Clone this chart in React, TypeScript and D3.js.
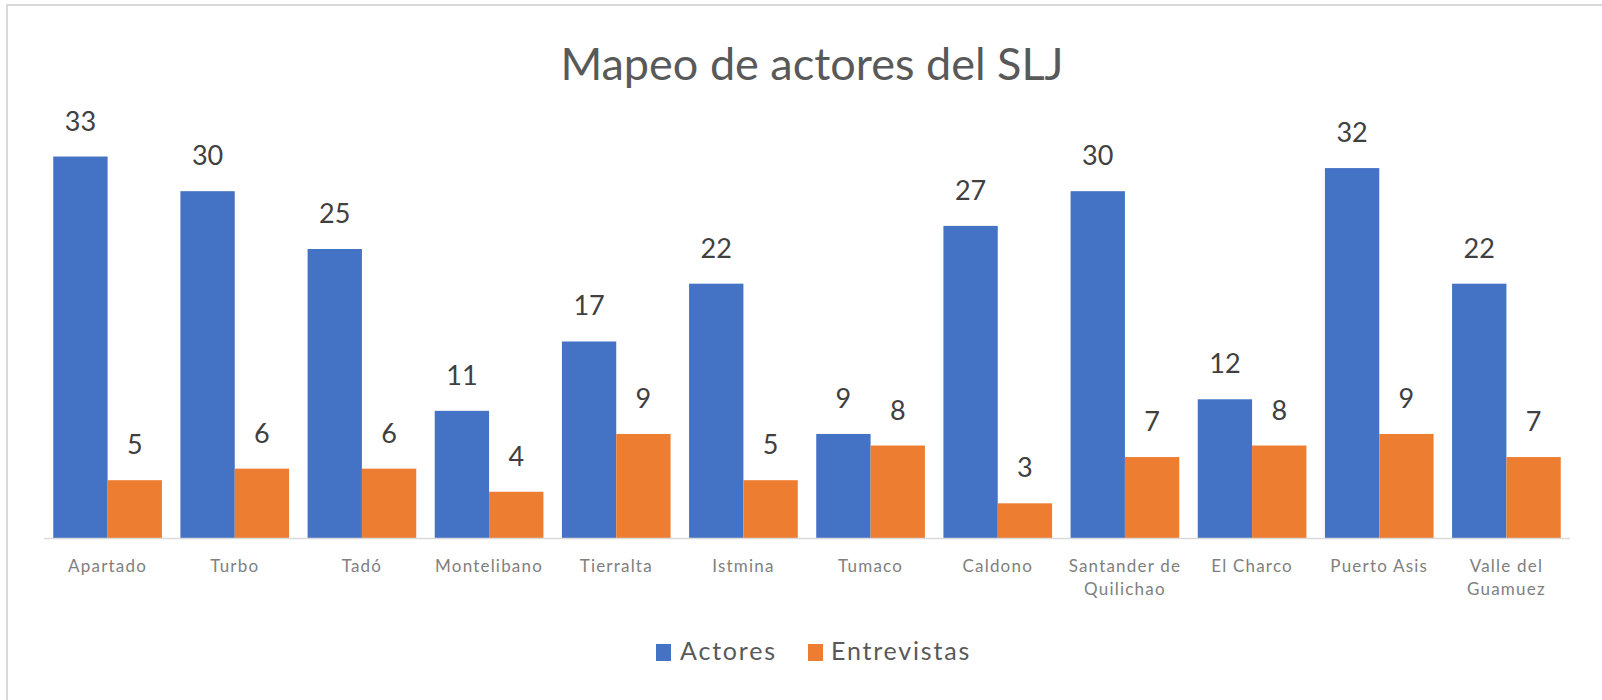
import * as d3 from 'd3';

const categories = [
  'Apartadó', 'Turbo', 'Tadó', 'Montelíbano', 'Tierralta', 'Istmina',
  'Tumaco', 'Caldono', 'Santander de Quilichao', 'El Charco', 'Puerto Asís', 'Valle del Guamuez',
];
// line breaks used by the category axis
const categoryLines: string[][] = [
  ['Apartado'], ['Turbo'], ['Tadó'], ['Montelibano'], ['Tierralta'], ['Istmina'],
  ['Tumaco'], ['Caldono'], ['Santander de', 'Quilichao'], ['El Charco'], ['Puerto Asis'], ['Valle del', 'Guamuez'],
];
const actores = [33, 30, 25, 11, 17, 22, 9, 27, 30, 12, 32, 22];
const entrevistas = [5, 6, 6, 4, 9, 5, 8, 3, 7, 8, 9, 7];
const seriesNames = ['Actores', 'Entrevistas'];
const seriesColors = ['#4472C4', '#ED7D31'];

const W = 1602;
const H = 700;
const FONT = 'Lato, "Open Sans", sans-serif';

const App = () => {
  const baseline = 538;
  const x0 = d3.scaleBand<string>()
    .domain(categories)
    .range([44, 1570])
    .paddingInner(0.1455)
    .paddingOuter(0.1455 / 2);
  const x1 = d3.scaleBand<string>()
    .domain(seriesNames)
    .range([0, x0.bandwidth()]);
  const y = d3.scaleLinear().domain([0, 35]).range([baseline, baseline - 35 * 11.56]);

  const series = [actores, entrevistas];

  return (
    <svg width={W} height={H} style={{ position: 'fixed', left: 0, top: 0, background: '#fff' }}>
      <rect x={0} y={0} width={W} height={H} fill="#fff" />
      {/* frame edges */}
      <line x1={7} x2={7} y1={4} y2={H} stroke="#d9d9d9" strokeWidth={2} />
      <line x1={6} x2={W} y1={5} y2={5} stroke="#d9d9d9" strokeWidth={2} />

      <text x={812} y={80} textAnchor="middle" fontFamily={FONT} fontSize={45} fill="#595959">
        Mapeo de actores del SLJ
      </text>

      {series.map((vals, si) => (
        <g key={seriesNames[si]}>
          {vals.map((v, i) => {
            const bx = (x0(categories[i]) ?? 0) + (x1(seriesNames[si]) ?? 0);
            const bw = x1.bandwidth();
            return (
              <g key={i}>
                <rect x={bx} y={y(v)} width={bw} height={baseline - y(v)} fill={seriesColors[si]} />
                <text x={bx + bw / 2} y={y(v) - 26} textAnchor="middle" fontFamily={FONT}
                  fontSize={27} fill="#404040">{v}</text>
              </g>
            );
          })}
        </g>
      ))}

      <line x1={x0.range()[0]} x2={x0.range()[1]} y1={baseline + 0.5} y2={baseline + 0.5}
        stroke="#d9d9d9" strokeWidth={1.5} />

      {categories.map((c, i) => (
        <text key={c} y={572} textAnchor="middle" fontFamily={FONT} fontSize={17}
          letterSpacing={1.2} fill="#7f7f7f">
          {categoryLines[i].map((ln, li) => (
            <tspan key={li} x={(x0(c) ?? 0) + x0.bandwidth() / 2} dy={li === 0 ? 0 : 23}>{ln}</tspan>
          ))}
        </text>
      ))}

      {/* legend */}
      <g fontFamily={FONT} fontSize={25} fill="#595959" letterSpacing={1.8}>
        <rect x={656} y={644} width={15} height={17} fill={seriesColors[0]} />
        <text x={680} y={660}>{seriesNames[0]}</text>
        <rect x={808} y={644} width={15} height={17} fill={seriesColors[1]} />
        <text x={831} y={660}>{seriesNames[1]}</text>
      </g>
    </svg>
  );
};

export default App;
